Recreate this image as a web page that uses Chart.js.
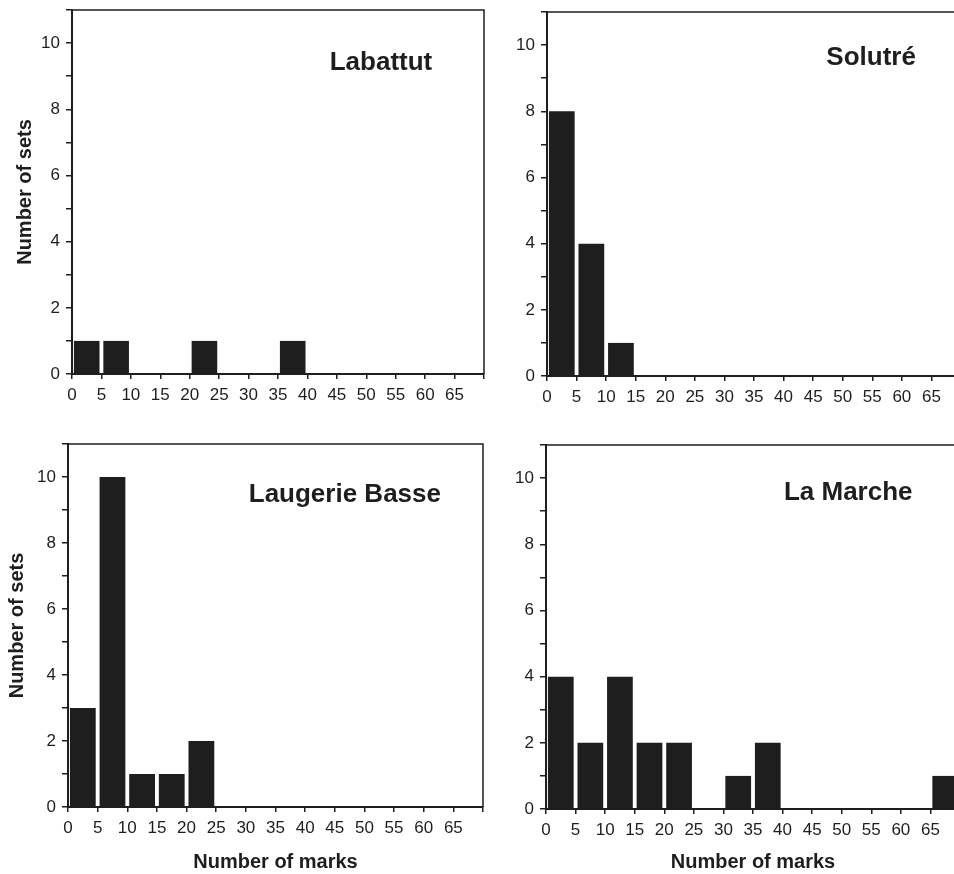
<!DOCTYPE html>
<html>
<head>
<meta charset="utf-8">
<title>Number of marks per set</title>
<script src="https://cdn.jsdelivr.net/npm/chart.js@4.4.0/dist/chart.umd.min.js"></script>
<style>
  html, body { margin: 0; padding: 0; background: #fff; overflow: hidden; }
  #page { position: relative; width: 954px; height: 874px; overflow: hidden; }
  canvas { position: absolute; }
</style>
</head>
<body>
<div id="page">
  <canvas id="labattut" width="500" height="420" style="left:0px;top:0px"></canvas>
  <canvas id="solutre" width="500" height="420" style="left:480px;top:0px"></canvas>
  <canvas id="laugerie" width="500" height="444" style="left:0px;top:430px"></canvas>
  <canvas id="marche" width="500" height="444" style="left:480px;top:430px"></canvas>
</div>
<script>
'use strict';

// bins of 5 marks: 0-5, 5-10, ... 65-70
const binStarts = [0, 5, 10, 15, 20, 25, 30, 35, 40, 45, 50, 55, 60, 65];
const labattut = [1, 1, 0, 0, 1, 0, 0, 1, 0, 0, 0, 0, 0, 0];
const solutre  = [8, 4, 1, 0, 0, 0, 0, 0, 0, 0, 0, 0, 0, 0];
const laugerie = [3, 10, 1, 1, 2, 0, 0, 0, 0, 0, 0, 0, 0, 0];
const marche   = [4, 2, 4, 2, 2, 0, 1, 2, 0, 0, 0, 0, 0, 1];

const xTickLabels = ['0', '5', '10', '15', '20', '25', '30', '35', '40', '45', '50', '55', '60', '65'];
const yTickLabels = ['0', '2', '4', '6', '8', '10'];

const INK = '#1e1e1e';
const FONT = '"Liberation Sans", Arial, Helvetica, sans-serif';

// panel name drawn inside the plot area, placed in data units
const panelLabel = {
  id: 'panelLabel',
  afterDraw(chart, args, opts) {
    const ctx = chart.ctx;
    const x = chart.scales.x.getPixelForValue(opts.x);
    const y = chart.scales.y.getPixelForValue(opts.y);
    ctx.save();
    ctx.font = 'bold 26px ' + FONT;
    ctx.fillStyle = INK;
    ctx.textAlign = 'center';
    ctx.textBaseline = 'middle';
    ctx.fillText(opts.text, x, y);
    ctx.restore();
  }
};

// top and right border of the box
const frame = {
  id: 'frame',
  afterDraw(chart) {
    const a = chart.chartArea;
    const ctx = chart.ctx;
    ctx.save();
    ctx.strokeStyle = INK;
    ctx.lineWidth = 1.5;
    ctx.beginPath();
    ctx.moveTo(a.left, a.top);
    ctx.lineTo(a.right, a.top);
    ctx.lineTo(a.right, a.bottom);
    ctx.stroke();
    ctx.restore();
  }
};

function makeChart(id, values, o) {
  const points = binStarts.map((b, i) => ({ x: b + 2.5, y: values[i] }));
  return new Chart(document.getElementById(id), {
    type: 'bar',
    data: {
      datasets: [{
        data: points,
        backgroundColor: INK,
        borderWidth: 0,
        categoryPercentage: 1.0,
        barPercentage: 0.87
      }]
    },
    plugins: [panelLabel, frame],
    options: {
      responsive: false,
      animation: false,
      devicePixelRatio: 1,
      layout: { padding: o.padding },
      plugins: {
        legend: { display: false },
        tooltip: { enabled: false },
        panelLabel: o.label
      },
      scales: {
        x: {
          type: 'linear',
          min: 0,
          max: 70,
          offset: false,
          grid: { offset: false, drawOnChartArea: false, tickLength: 5, color: INK, lineWidth: 1.5 },
          border: { color: INK, width: 2 },
          ticks: {
            stepSize: 5,
            padding: 6,
            color: INK,
            maxRotation: 0,
            autoSkip: false,
            font: { family: FONT, size: 17 },
            callback: v => xTickLabels.includes(String(v)) ? String(v) : ''
          },
          title: {
            display: !!o.xTitle,
            text: 'Number of marks',
            color: INK,
            font: { family: FONT, size: 20, weight: 'bold' },
            padding: { top: 0, bottom: 0 }
          },
          afterFit: s => { s.height = o.xHeight; s.paddingLeft = 0; s.paddingRight = 0; }
        },
        y: {
          min: 0,
          max: 11,
          grid: { drawOnChartArea: false, tickLength: 6, color: INK, lineWidth: 1.5 },
          border: { color: INK, width: 2 },
          ticks: {
            stepSize: 1,
            padding: 6,
            color: INK,
            autoSkip: false,
            font: { family: FONT, size: 17 },
            callback: v => yTickLabels.includes(String(v)) ? String(v) : ''
          },
          title: {
            display: !!o.yTitle,
            text: 'Number of sets',
            color: INK,
            font: { family: FONT, size: 20, weight: 'bold' },
            padding: { top: o.yTitlePad || 0, bottom: 0 }
          },
          afterFit: s => { s.width = o.yWidth; s.paddingTop = 0; s.paddingBottom = 0; }
        }
      }
    }
  });
}

makeChart('labattut', labattut, {
  padding: { top: 10, right: 16, left: 0, bottom: 0 },
  yWidth: 72, xHeight: 46, yTitle: true, yTitlePad: 13,
  label: { text: 'Labattut', x: 52.5, y: 9.4 }
});
makeChart('solutre', solutre, {
  padding: { top: 12, right: 19, left: 0, bottom: 0 },
  yWidth: 67, xHeight: 44,
  label: { text: 'Solutré', x: 54.8, y: 9.6 }
});
makeChart('laugerie', laugerie, {
  padding: { top: 14, right: 17, left: 0, bottom: 0 },
  yWidth: 68, xHeight: 67, yTitle: true, yTitlePad: 5, xTitle: true,
  label: { text: 'Laugerie Basse', x: 46.7, y: 9.45 }
});
makeChart('marche', marche, {
  padding: { top: 15, right: 20, left: 0, bottom: 0 },
  yWidth: 66, xHeight: 65, xTitle: true,
  label: { text: 'La Marche', x: 51.1, y: 9.55 }
});
</script>
</body>
</html>
